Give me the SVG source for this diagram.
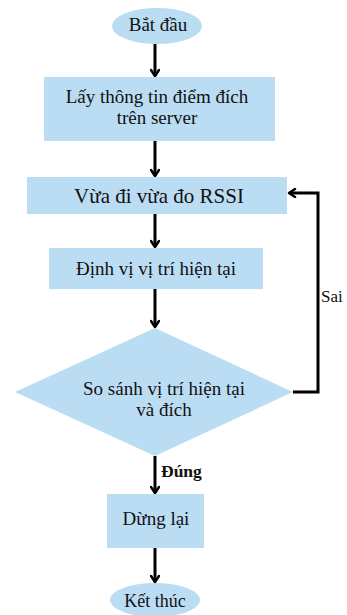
<svg xmlns="http://www.w3.org/2000/svg" width="347" height="615" viewBox="0 0 347 615">
<defs>
<style>
.n{fill:#BBDDF4;stroke:none}
.t{font-family:'Liberation Serif','Times New Roman',serif;font-size:19px;fill:#111;text-anchor:middle}
.l{font-family:'Liberation Serif','Times New Roman',serif;font-size:17px;fill:#111}
.c{fill:none;stroke:#000;stroke-width:3;stroke-linejoin:miter}
</style>
<marker id="a" viewBox="0 0 10 10" refX="8" refY="5" markerWidth="10" markerHeight="10" markerUnits="userSpaceOnUse" orient="auto">
<path d="M2,1 L8,5 L2,9" fill="none" stroke="#000" stroke-width="2.5" stroke-linecap="round" stroke-linejoin="round"/>
</marker>
</defs>
<rect width="347" height="615" fill="#fff"/>
<g id="connectors">
<path class="c" d="M155,44 V76" marker-end="url(#a)"/>
<path class="c" d="M155,141 V176" marker-end="url(#a)"/>
<path class="c" d="M155,214 V247" marker-end="url(#a)"/>
<path class="c" d="M155,289 V327" marker-end="url(#a)"/>
<path class="c" d="M293,392 H318 V193 H289" marker-end="url(#a)"/>
<path class="c" d="M155,456 V493" marker-end="url(#a)"/>
<path class="c" d="M155,548 V582" marker-end="url(#a)"/>
<text class="l" x="321" y="302">Sai</text>
<text class="l" x="161" y="477" style="font-weight:bold;font-size:17.5px">Đúng</text>
</g>
<g id="start">
<ellipse class="n" cx="157" cy="26" rx="45" ry="18"/>
<text class="t" x="158" y="31">Bắt đầu</text>
</g>
<g id="fetch">
<rect class="n" x="44" y="77" width="231" height="64"/>
<text class="t" x="157" y="103">Lấy thông tin điểm đích</text>
<text class="t" x="157" y="124">trên server</text>
</g>
<g id="walk">
<rect class="n" x="27" y="177" width="260" height="37"/>
<text class="t" x="159" y="203" style="font-size:21px">Vừa đi vừa đo RSSI</text>
</g>
<g id="locate">
<rect class="n" x="49" y="248" width="214" height="41"/>
<text class="t" x="156" y="275">Định vị vị trí hiện tại</text>
</g>
<g id="compare">
<polygon class="n" points="155,328 293,392 155,456 15,392"/>
<text class="t" x="164" y="395">So sánh vị trí hiện tại</text>
<text class="t" x="164" y="416">và đích</text>
</g>
<g id="stop">
<rect class="n" x="107" y="494" width="97" height="54"/>
<text class="t" x="156" y="525">Dừng lại</text>
</g>
<g id="end">
<ellipse class="n" cx="155" cy="600" rx="45" ry="17"/>
<text class="t" x="155" y="607" style="font-size:18px">Kết thúc</text>
</g>
</svg>
